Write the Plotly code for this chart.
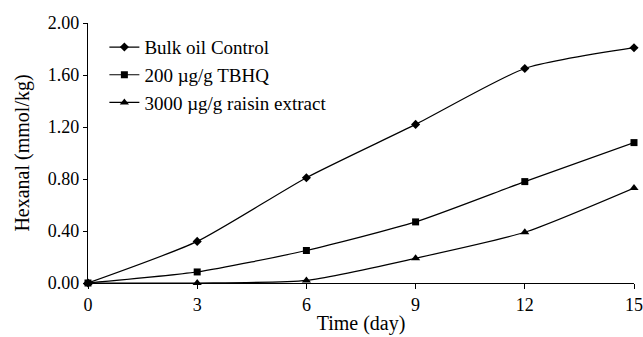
import plotly.graph_objects as go

days = [0, 3, 6, 9, 12, 15]
control = [0.0, 0.32, 0.81, 1.22, 1.65, 1.81]
tbhq = [0.0, 0.085, 0.25, 0.47, 0.78, 1.08]
raisin = [0.0, 0.0, 0.02, 0.19, 0.39, 0.73]
names = ["Bulk oil Control", "200 \u00b5g/g TBHQ", "3000 \u00b5g/g raisin extract"]
symbols = ["diamond", "square", "triangle-up"]
sizes = [7, 7, 8]
yticks = [0.0, 0.4, 0.8, 1.2, 1.6, 2.0]

FONT = "Liberation Serif, Times New Roman, serif"
fig = go.Figure()
for vals, nm, sym, sz in zip([control, tbhq, raisin], names, symbols, sizes):
    fig.add_trace(go.Scatter(
        x=days, y=vals, name=nm, mode="lines+markers",
        line=dict(color="black", width=1.2, shape="spline", smoothing=0.6),
        marker=dict(symbol=sym, size=sz, color="black"),
        cliponaxis=False,
    ))

fig.update_layout(
    width=643, height=337,
    margin=dict(l=88, r=9, t=23, b=54),
    paper_bgcolor="white", plot_bgcolor="white",
    font=dict(family=FONT, size=18, color="black"),
    showlegend=True,
    legend=dict(x=0.03, y=0.98, xanchor="left", yanchor="top",
                bgcolor="rgba(0,0,0,0)", font=dict(size=19),
                tracegroupgap=0, itemwidth=30),
    xaxis=dict(range=[0, 15], tickvals=days, ticktext=[str(d) for d in days],
               showline=True, linecolor="black", linewidth=1.2,
               ticks="outside", ticklen=5, tickcolor="black", showgrid=False,
               zeroline=False, tickfont=dict(size=18), automargin=False,
               title=dict(text="Time (day)", font=dict(size=20), standoff=2)),
    yaxis=dict(range=[0, 2.0], tickvals=yticks,
               ticktext=[f"{v:.2f}" for v in yticks],
               showline=True, linecolor="black", linewidth=1.2,
               ticks="outside", ticklen=4, tickcolor="black", showgrid=False,
               zeroline=False, tickfont=dict(size=18), automargin=False,
               title=dict(text="Hexanal (mmol/kg)", font=dict(size=20), standoff=12)),
)
fig.write_html("out.html")
